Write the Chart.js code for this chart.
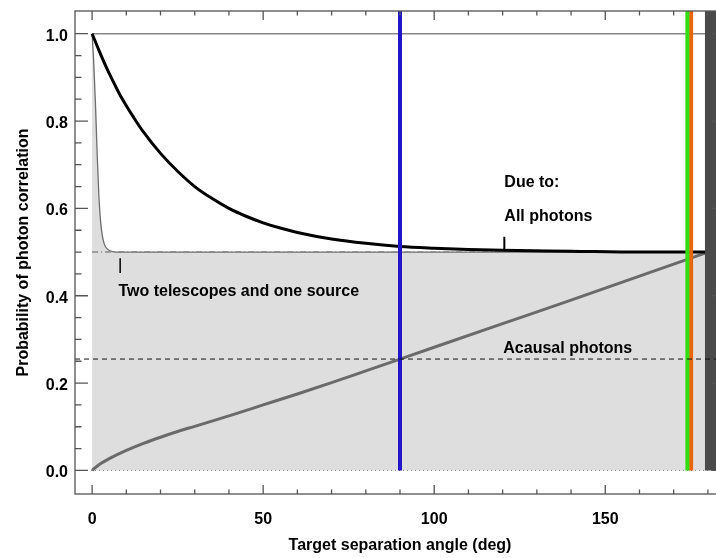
<!DOCTYPE html>
<html>
<head>
<meta charset="utf-8">
<script src="https://cdn.jsdelivr.net/npm/chart.js"></script>
<style>
  html, body { margin: 0; padding: 0; overflow: hidden; background: #fff; }
  #wrap { width: 745px; height: 558px; }
</style>
</head>
<body>
<div id="wrap"><canvas id="myChart" width="745" height="558"></canvas></div>
<script>
// values
const allAngle = [0, 2, 4, 6, 8, 10, 12, 15, 20, 25, 30, 35, 40, 45, 50, 55, 60, 70, 80, 90, 100, 110, 120, 140, 160, 180];
const allPhotons = [1.0, 0.962, 0.926, 0.893, 0.862, 0.835, 0.81, 0.775, 0.726, 0.685, 0.65, 0.623, 0.6, 0.582, 0.567, 0.555, 0.545, 0.53, 0.52, 0.513, 0.509, 0.506, 0.504, 0.502, 0.5, 0.5];

const twoAngle = [0, 0.5, 1, 1.5, 2, 2.5, 3, 3.5, 4, 5, 6, 7, 8, 180];
const twoTelescopes = [1.0, 0.93, 0.835, 0.72, 0.625, 0.568, 0.537, 0.52, 0.511, 0.504, 0.501, 0.5, 0.5, 0.5];

const acausalAngle = [0, 2, 5, 10, 15, 20, 25, 30, 40, 50, 60, 70, 80, 90, 100, 120, 140, 160, 180];
const acausal = [0, 0.013, 0.027, 0.046, 0.062, 0.076, 0.089, 0.101, 0.125, 0.15, 0.175, 0.201, 0.228, 0.255, 0.282, 0.336, 0.39, 0.445, 0.5];

const acausalLevel = 0.255;
const blueAngle = 90;
const greenAngle = 174;
const orangeAngle = 175.1;
const bandStart = 179.1;

const xMajor = [0, 50, 100, 150];
const xMinor = [0, 10, 20, 30, 40, 50, 60, 70, 80, 90, 100, 110, 120, 130, 140, 150, 160, 170, 180];
const yMajor = [0, 0.2, 0.4, 0.6, 0.8, 1.0];
const yMinor = [0, 0.05, 0.1, 0.15, 0.2, 0.25, 0.3, 0.35, 0.4, 0.45, 0.5, 0.55, 0.6, 0.65, 0.7, 0.75, 0.8, 0.85, 0.9, 0.95, 1.0];

const notes = [
  { text: 'Due to:', x: 120.5, y: 0.66 },
  { text: 'All photons', x: 120.5, y: 0.581 },
  { text: 'Two telescopes and one source', x: 7.7, y: 0.409 },
  { text: 'Acausal photons', x: 120.2, y: 0.28 }
];

const X_MIN = -5, X_MAX = 185, Y_MIN = -0.054, Y_MAX = 1.052;
const FONT = "'Liberation Sans', Arial, Helvetica, sans-serif";

const xy = (xs, ys) => xs.map((x, i) => ({ x, y: ys[i] }));
const hline = (y, x0, x1) => [{ x: x0, y }, { x: x1, y }];
const vline = (x, y0, y1) => [{ x, y: y0 }, { x, y: y1 }];

function line(data, color, width, order, extra) {
  return Object.assign({
    data, borderColor: color, borderWidth: width, order,
    pointRadius: 0, fill: false, tension: 0
  }, extra || {});
}

// frame with inward ticks on all four sides
const frame = {
  id: 'frame',
  afterDraw(chart) {
    const { ctx, chartArea: a, scales: { x, y } } = chart;
    ctx.save();
    ctx.strokeStyle = '#555';
    ctx.lineWidth = 1.3;
    ctx.strokeRect(a.left, a.top, a.right - a.left, a.bottom - a.top);
    ctx.beginPath();
    xMinor.forEach(v => {
      const px = x.getPixelForValue(v);
      const len = xMajor.includes(v) ? 9 : 4.5;
      ctx.moveTo(px, a.bottom); ctx.lineTo(px, a.bottom - len);
      ctx.moveTo(px, a.top); ctx.lineTo(px, a.top + len);
    });
    yMinor.forEach(v => {
      const py = y.getPixelForValue(v);
      const major = Math.abs(v * 5 - Math.round(v * 5)) < 1e-6;
      const len = major ? 13 : 6.5;
      ctx.moveTo(a.left, py); ctx.lineTo(a.left + len, py);
      ctx.moveTo(a.right, py); ctx.lineTo(a.right - len, py);
    });
    ctx.stroke();
    ctx.restore();
  }
};

const labels = {
  id: 'labels',
  afterDatasetsDraw(chart) {
    const { ctx, scales: { x, y } } = chart;
    ctx.save();
    ctx.font = 'bold 16px ' + FONT;
    ctx.fillStyle = '#000';
    ctx.textBaseline = 'middle';
    ctx.textAlign = 'left';
    notes.forEach(n => ctx.fillText(n.text, x.getPixelForValue(n.x), y.getPixelForValue(n.y)));
    ctx.restore();
  }
};

const ctx = document.getElementById('myChart').getContext('2d');
new Chart(ctx, {
  type: 'line',
  data: {
    datasets: [
      line(xy(twoAngle, twoTelescopes), '#6e6e6e', 1.3, 10,
        { fill: { value: 0 }, backgroundColor: '#dedede', cubicInterpolationMode: 'monotone' }),
      line(hline(0, X_MIN, X_MAX), '#8a8a8a', 1, 9, { borderDash: [1, 3] }),
      line(hline(1.0, 0, X_MAX), '#888', 1.5, 9),
      line(hline(0.5, 0, 180), '#888', 1.5, 9, { borderDash: [6, 3, 1, 3] }),
      line(xy(acausalAngle, acausal), '#6a6a6a', 3, 7, { cubicInterpolationMode: 'monotone' }),
      line(xy(allAngle, allPhotons), '#000', 3, 6, { cubicInterpolationMode: 'monotone' }),
      line(vline(blueAngle, 0, Y_MAX), '#2214c8', 4, 4),
      line(vline(greenAngle, 0, Y_MAX), '#33dd11', 4, 4),
      line(vline(orangeAngle, 0, Y_MAX), '#e8650a', 4, 4),
      line([{ x: bandStart, y: Y_MAX }, { x: X_MAX, y: Y_MAX }], '#4a4a4a', 0, 3,
        { fill: { value: 0 }, backgroundColor: '#4a4a4a' }),
      line(hline(acausalLevel, X_MIN, X_MAX), '#111', 1, 2, { borderDash: [5, 4] }),
      line(vline(120.5, 0.505, 0.535), '#000', 2, 1),
      line(vline(8.2, 0.452, 0.486), '#000', 1.5, 1)
    ]
  },
  options: {
    responsive: false,
    animation: false,
    layout: { padding: { top: 11, right: 20, bottom: 0, left: 0 } },
    plugins: { legend: { display: false }, tooltip: { enabled: false } },
    scales: {
      x: {
        type: 'linear', min: X_MIN, max: X_MAX,
        grid: { display: false, drawTicks: false },
        border: { display: false },
        afterBuildTicks: s => { s.ticks = xMajor.map(v => ({ value: v })); },
        afterFit: s => { s.height = 64; s.paddingLeft = 0; s.paddingRight = 0; },
        ticks: { padding: 16, color: '#000', font: { family: FONT, size: 16, weight: 'bold' }, maxRotation: 0 },
        title: {
          display: true, text: 'Target separation angle (deg)', color: '#000',
          font: { family: FONT, size: 16, weight: 'bold' }, padding: { top: 0, bottom: 2.4 }
        }
      },
      y: {
        type: 'linear', min: Y_MIN, max: Y_MAX,
        grid: { display: false, drawTicks: false },
        border: { display: false },
        afterBuildTicks: s => { s.ticks = yMajor.map(v => ({ value: v })); },
        afterFit: s => { s.width = 75; s.paddingTop = 0; s.paddingBottom = 0; },
        ticks: {
          padding: 7, labelOffset: 2.5, color: '#000',
          font: { family: FONT, size: 16, weight: 'bold' },
          callback: v => Number(v).toFixed(1)
        },
        title: {
          display: true, text: 'Probability of photon correlation', color: '#000',
          font: { family: FONT, size: 16, weight: 'bold' }, padding: { top: 14, bottom: 0 }
        }
      }
    }
  },
  plugins: [labels, frame]
});
</script>
</body>
</html>
